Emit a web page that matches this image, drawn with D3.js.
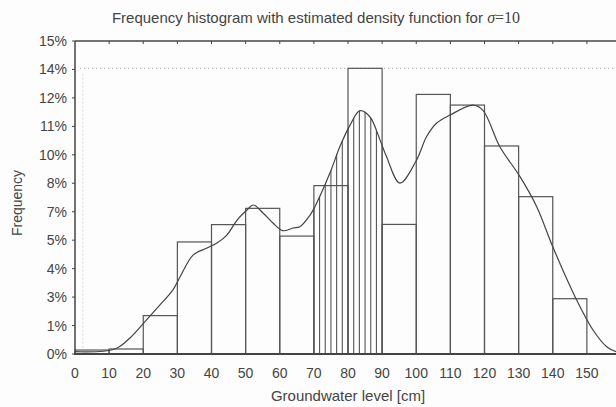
<!DOCTYPE html>
<html>
<head>
<meta charset="utf-8">
<script src="https://cdn.jsdelivr.net/npm/d3@7"></script>
<style>
  body { margin: 0; background: #fff; }
  svg { display: block; }
  text { fill: #444; font-family: "Liberation Sans", Arial, sans-serif; }
</style>
</head>
<body>
<div id="plot"></div>
<script>
// Width and height
const w = 616;
const h = 407;
const margin = {top: 41, left: 75, bottom: 53};

// histogram bins (cm) and frequencies (%)
const binStarts = [0, 10, 20, 30, 40, 50, 60, 70, 80, 90, 100, 110, 120, 130, 140];
const binWidth = 10;
const freq = [0.19, 0.24, 1.84, 5.37, 6.2, 6.98, 5.65, 8.07, 13.69, 6.21, 12.44, 11.93, 9.97, 7.54, 2.65];

// estimated density (sigma = 10)
const curveX = [0, 11.7, 16.1, 20.5, 24.9, 28.7, 30.8, 34.6, 38.7, 41.6, 44.5, 47.5, 50.4, 52.2, 55.1, 58.0, 60.9, 63.9, 65.9, 68.9, 70.3, 74.7, 77.6, 80.6, 83.5, 86.4, 89.4, 91.3, 95.2, 100.1, 103.0, 106.0, 109.9, 116.6, 119.5, 124.5, 130.4, 135.3, 140.0, 147.0, 151.8, 155.8, 159];
const curveY = [0.11, 0.24, 0.77, 1.55, 2.35, 3.07, 3.7, 4.74, 5.08, 5.32, 5.7, 6.42, 6.9, 7.14, 6.76, 6.28, 5.91, 6.04, 6.1, 6.66, 7.06, 8.67, 9.93, 10.97, 11.66, 11.37, 10.25, 9.45, 8.19, 9.3, 10.41, 11.07, 11.45, 11.93, 11.69, 9.93, 8.5, 7.06, 5.14, 2.59, 1.15, 0.35, 0.08];

// shaded interval under the curve
const shadeFrom = 70;
const shadeTo = 90;
const shadeLines = 13;

// axis ticks
const xTicks = [0, 10, 20, 30, 40, 50, 60, 70, 80, 90, 100, 110, 120, 130, 140, 150];
const yTickLabels = ["0%", "1%", "3%", "4%", "5%", "7%", "8%", "10%", "11%", "12%", "14%", "15%"];
const yMax = 15;

const xScale = d3.scaleLinear()
  .domain([0, 160])
  .range([margin.left, margin.left + 546]);

const yScale = d3.scaleLinear()
  .domain([0, yMax])
  .range([h - margin.bottom, margin.top]);

const yTicks = yTickLabels.map((d, i) => i * yMax / (yTickLabels.length - 1));

const svg = d3.select("div#plot")
  .append("svg")
    .attr("width", w)
    .attr("height", h);

svg.append("rect")
  .attr("width", w)
  .attr("height", h)
  .attr("fill", "#fdfdfd");

// title
const title = svg.append("text")
  .attr("x", 316)
  .attr("y", 23)
  .attr("text-anchor", "middle")
  .style("font-size", "15px");
title.append("tspan").text("Frequency histogram with estimated density function for ");
title.append("tspan")
  .style("font-family", "'Liberation Serif', serif")
  .style("font-style", "italic")
  .style("font-size", "16px")
  .text("σ");
title.append("tspan")
  .style("font-family", "'Liberation Serif', serif")
  .style("font-size", "16px")
  .text("=10");

// dotted reference lines
svg.append("line")
  .attr("x1", xScale(1.5))
  .attr("x2", w)
  .attr("y1", yScale(d3.max(freq)))
  .attr("y2", yScale(d3.max(freq)))
  .attr("stroke", "#999")
  .attr("stroke-width", 1)
  .attr("stroke-dasharray", "1,3");

svg.append("line")
  .attr("x1", xScale(2.3))
  .attr("x2", xScale(2.3))
  .attr("y1", yScale(13.4))
  .attr("y2", yScale(0.2))
  .attr("stroke", "#bbb")
  .attr("stroke-width", 1)
  .attr("stroke-dasharray", "1,3");

// bars
svg.append("g")
  .selectAll("rect")
  .data(freq)
  .enter()
  .append("rect")
    .attr("x", (d, i) => xScale(binStarts[i]))
    .attr("y", d => yScale(d))
    .attr("width", xScale(binWidth) - xScale(0))
    .attr("height", d => yScale(0) - yScale(d))
    .attr("fill", "none")
    .attr("stroke", "#555")
    .attr("stroke-width", 1.2);

// clip for hatching = area under curve
const pts = curveX.map((x, i) => [x, curveY[i]]);
const area = d3.area()
  .x(d => xScale(d[0]))
  .y0(yScale(0))
  .y1(d => yScale(d[1]))
  .curve(d3.curveCatmullRom);

svg.append("clipPath")
  .attr("id", "under")
  .append("path")
  .attr("d", area(pts));

const hatchX = d3.range(shadeLines).map(i => shadeFrom + i * (shadeTo - shadeFrom) / (shadeLines - 1));
svg.append("g")
  .attr("clip-path", "url(#under)")
  .selectAll("line")
  .data(hatchX)
  .enter()
  .append("line")
    .attr("x1", d => xScale(d))
    .attr("x2", d => xScale(d))
    .attr("y1", yScale(0))
    .attr("y2", yScale(yMax))
    .attr("stroke", "#555")
    .attr("stroke-width", 1.1);

// density curve
const line = d3.line()
  .x(d => xScale(d[0]))
  .y(d => yScale(d[1]))
  .curve(d3.curveCatmullRom);

svg.append("path")
  .attr("d", line(pts))
  .attr("fill", "none")
  .attr("stroke", "#444")
  .attr("stroke-width", 1.2);

// frame
svg.append("line")
  .attr("x1", xScale(0)).attr("x2", w)
  .attr("y1", yScale(yMax)).attr("y2", yScale(yMax))
  .attr("stroke", "#444").attr("stroke-width", 1.5);
svg.append("line")
  .attr("x1", xScale(0)).attr("x2", xScale(0))
  .attr("y1", yScale(yMax)).attr("y2", yScale(0))
  .attr("stroke", "#444").attr("stroke-width", 1.5);
svg.append("line")
  .attr("x1", xScale(0) - 1).attr("x2", w)
  .attr("y1", yScale(0)).attr("y2", yScale(0))
  .attr("stroke", "#444").attr("stroke-width", 2);

// top ticks
svg.append("g")
  .selectAll("line")
  .data(xTicks.slice(1))
  .enter()
  .append("line")
    .attr("x1", d => xScale(d)).attr("x2", d => xScale(d))
    .attr("y1", yScale(yMax)).attr("y2", yScale(yMax) + 3)
    .attr("stroke", "#444");

// x tick labels
svg.append("g")
  .selectAll("text")
  .data(xTicks)
  .enter()
  .append("text")
    .attr("x", d => xScale(d))
    .attr("y", yScale(0) + 24)
    .attr("text-anchor", "middle")
    .style("font-size", "14px")
    .text(d => d);

// y ticks + labels
svg.append("g")
  .selectAll("line")
  .data(yTicks)
  .enter()
  .append("line")
    .attr("x1", xScale(0) - 3).attr("x2", xScale(0))
    .attr("y1", d => yScale(d)).attr("y2", d => yScale(d))
    .attr("stroke", "#444");

svg.append("g")
  .selectAll("text")
  .data(yTicks)
  .enter()
  .append("text")
    .attr("x", xScale(0) - 8)
    .attr("y", d => yScale(d) + 5)
    .attr("text-anchor", "end")
    .style("font-size", "14px")
    .text((d, i) => yTickLabels[i]);

// axis titles
svg.append("text")
  .attr("x", 348)
  .attr("y", 401)
  .attr("text-anchor", "middle")
  .style("font-size", "15px")
  .text("Groundwater level [cm]");

svg.append("text")
  .attr("transform", "rotate(-90)")
  .attr("x", -203)
  .attr("y", 22)
  .attr("text-anchor", "middle")
  .style("font-size", "14px")
  .text("Frequency");
</script>
</body>
</html>
